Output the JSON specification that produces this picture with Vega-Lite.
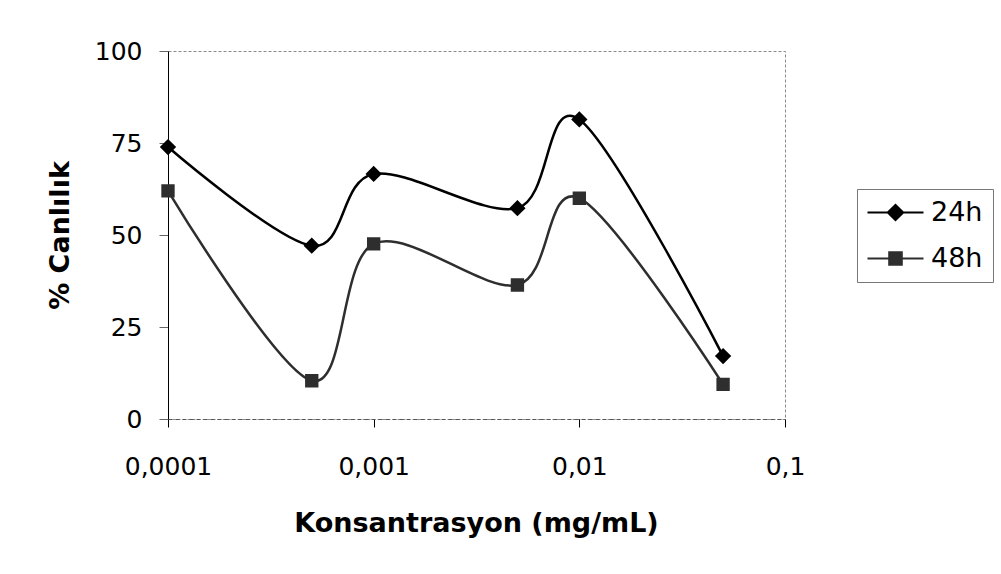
{
  "$schema": "https://vega.github.io/schema/vega-lite/v6.json",
  "width": 617,
  "height": 368,
  "autosize": {"type": "none"},
  "padding": {"left": 168, "top": 51, "right": 216, "bottom": 155},
  "background": "white",
  "config": {
    "font": "DejaVu Sans",
    "view": {"stroke": "#8a8a8a", "strokeDash": [3, 2], "strokeWidth": 1}
  },
  "data": {
    "values": [
      {"conc": 0.0001, "viability": 73.9, "series": "24h"},
      {"conc": 0.0005, "viability": 47.1, "series": "24h"},
      {"conc": 0.001, "viability": 66.6, "series": "24h"},
      {"conc": 0.005, "viability": 57.3, "series": "24h"},
      {"conc": 0.01, "viability": 81.4, "series": "24h"},
      {"conc": 0.05, "viability": 17.1, "series": "24h"},
      {"conc": 0.0001, "viability": 62.0, "series": "48h"},
      {"conc": 0.0005, "viability": 10.4, "series": "48h"},
      {"conc": 0.001, "viability": 47.6, "series": "48h"},
      {"conc": 0.005, "viability": 36.4, "series": "48h"},
      {"conc": 0.01, "viability": 60.0, "series": "48h"},
      {"conc": 0.05, "viability": 9.4, "series": "48h"}
    ]
  },
  "encoding": {
    "x": {
      "field": "conc",
      "type": "quantitative",
      "title": "Konsantrasyon (mg/mL)",
      "scale": {"type": "log", "domain": [0.0001, 0.1]},
      "axis": {
        "values": [0.0001, 0.001, 0.01, 0.1],
        "labelExpr": "replace(toString(datum.value), '.', ',')",
        "labelFontSize": 25,
        "labelColor": "#000",
        "labelFlush": false,
        "labelBaseline": "middle",
        "labelPadding": 39,
        "tickSize": 8,
        "tickColor": "#000",
        "domainColor": "#555",
        "domainDash": [4, 3],
        "grid": false,
        "titleFontSize": 27,
        "titleFontWeight": "bold",
        "titleColor": "#000",
        "titleX": 308,
        "titleY": 104,
        "titleBaseline": "middle",
        "titleAlign": "center"
      }
    },
    "y": {
      "field": "viability",
      "type": "quantitative",
      "title": "% Canlılık",
      "scale": {"domain": [0, 100]},
      "axis": {
        "values": [0, 25, 50, 75, 100],
        "labelFontSize": 25,
        "labelColor": "#000",
        "labelPadding": 17,
        "tickSize": 9,
        "tickColor": "#666",
        "domainColor": "#000",
        "grid": false,
        "titleFontSize": 27,
        "titleFontWeight": "bold",
        "titleColor": "#000",
        "titleX": -108,
        "titleY": 184,
        "titleBaseline": "middle",
        "titleAlign": "center",
        "titleAngle": -90
      }
    },
    "color": {
      "field": "series",
      "type": "nominal",
      "scale": {"domain": ["24h", "48h"], "range": ["#000000", "#2e2e2e"]},
      "legend": {
        "orient": "none",
        "legendX": 689,
        "legendY": 138,
        "title": null,
        "strokeColor": "#777",
        "padding": 10,
        "labelFontSize": 27,
        "labelColor": "#000",
        "labelOffset": 22,
        "symbolOffset": 15,
        "symbolSize": 196,
        "symbolStrokeColor": "#000",
        "symbolStrokeWidth": 2,
        "rowPadding": 18
      }
    }
  },
  "layer": [
    {
      "mark": {"type": "line", "interpolate": "cardinal", "strokeWidth": 2.5}
    },
    {
      "mark": {"type": "point", "filled": true, "opacity": 1, "size": 220},
      "encoding": {
        "shape": {
          "field": "series",
          "type": "nominal",
          "scale": {"domain": ["24h", "48h"], "range": ["M-4,0H4M-1.1,0L0,-1.1L1.1,0L0,1.1Z", "M-4,0H4M-0.9,-0.9H0.9V0.9H-0.9Z"]}
        }
      }
    }
  ]
}
